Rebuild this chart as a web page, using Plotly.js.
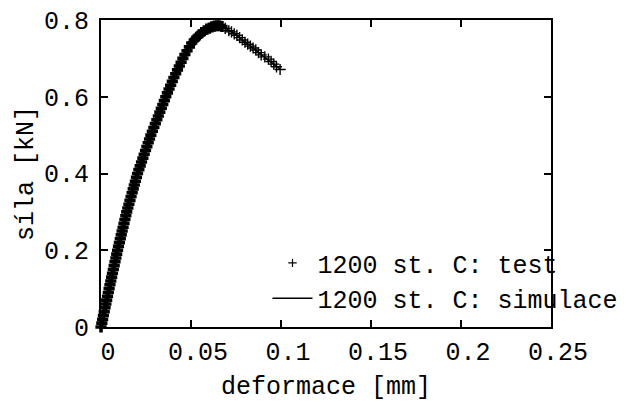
<!DOCTYPE html>
<html>
<head>
<meta charset="utf-8">
<script src="https://cdn.plot.ly/plotly-3.0.1.min.js"></script>
<style>html,body{margin:0;padding:0;background:#fff;}#chart{width:639px;height:402px;}</style>
</head>
<body>
<div id="chart"></div>
<script>
// Test data (crosses)
const testX = [0,0.00045,0.0009,0.00135,0.0018,0.00225,0.0027,0.00315,0.0036,0.00405,0.0045,
  0.00497,0.00544,0.00591,0.00638,0.00685,0.00732,0.00779,0.00826,0.00873,0.0092,
  0.00971,0.01022,0.01073,0.01124,0.01175,0.01226,0.01277,0.01328,0.01379,0.0143,
  0.0149,0.0155,0.0161,0.0167,0.0173,0.0179,0.0185,0.0191,0.0197,0.0203,
  0.02104,0.02178,0.02252,0.02326,0.024,0.02474,0.02548,0.02622,0.02696,0.0277,
  0.02853,0.02936,0.03019,0.03102,0.03185,0.03268,0.03351,0.03434,0.03517,0.036,
  0.0369,0.0378,0.0387,0.0396,0.0405,0.0415,0.0425,0.0435,0.0445,0.0455,
  0.0466,0.0478,0.0491,0.0504,0.0518,0.0532,0.0546,0.056,0.0574,0.0588,
  0.0602,0.0616,0.063,0.0644,0.0658,0.0672,
  0.069,0.071,0.0725,0.074,0.0755,0.077,0.0785,0.080,0.0815,0.083,0.0845,0.086,0.0875,0.089,0.091,0.093,0.0945,0.096,0.0975,0.0995];
const testY = [0,0.01,0.02,0.03,0.04,0.05,0.06,0.07,0.08,0.09,0.10,
  0.11,0.12,0.13,0.14,0.15,0.16,0.17,0.18,0.19,0.20,
  0.21,0.22,0.23,0.24,0.25,0.26,0.27,0.28,0.29,0.30,
  0.31,0.32,0.33,0.34,0.35,0.36,0.37,0.38,0.39,0.40,
  0.41,0.42,0.43,0.44,0.45,0.46,0.47,0.48,0.49,0.50,
  0.51,0.52,0.53,0.54,0.55,0.56,0.57,0.58,0.59,0.60,
  0.61,0.62,0.63,0.64,0.65,0.66,0.67,0.68,0.69,0.70,
  0.71,0.72,0.73,0.74,0.748,0.755,0.761,0.767,0.772,0.776,
  0.779,0.782,0.784,0.785,0.785,0.783,
  0.778,0.772,0.769,0.764,0.760,0.754,0.748,0.742,0.737,0.732,0.727,0.722,0.715,0.709,0.704,0.698,0.692,0.685,0.678,0.671];
// Simulation (line)
const simX = [0,0.0045,0.0092,0.0143,0.0203,0.0277,0.036,0.0405,0.0455,0.0504,0.0546,0.0588,0.063,0.066,0.069,0.073,0.078,0.083,0.088,0.093,0.0995];
const simY = [0,0.1,0.2,0.3,0.4,0.5,0.6,0.65,0.7,0.74,0.761,0.776,0.784,0.785,0.779,0.768,0.75,0.732,0.714,0.697,0.672];
const seriesNames = ["1200 st. C: test", "1200 st. C: simulace"];
const xTicks = [0,0.05,0.1,0.15,0.2,0.25];
const xTickText = ["0","0.05","0.1","0.15","0.2","0.25"];
const yTicks = [0,0.2,0.4,0.6,0.8];
const yTickText = ["0","0.2","0.4","0.6","0.8"];
const xTitle = "deformace [mm]";
const yTitle = "síla [kN]";

const FONT = {family: "Liberation Mono, Courier New, monospace", size: 25, color: "#000"};

// dense overlapping region drawn with heavier strokes so the crosses merge into a band
const crossWidths = testX.map(function (v) { return v < 0.068 ? 3.6 : 1.4; });

const traces = [
  {x: testX, y: testY, name: seriesNames[0], type: "scatter", mode: "markers", cliponaxis: false,
   showlegend: false,
   marker: {symbol: "cross-thin-open", size: 8, color: "#000", line: {color: "#000", width: crossWidths}}},
  {x: simX, y: simY, name: seriesNames[1], type: "scatter", mode: "lines", cliponaxis: false,
   showlegend: false,
   line: {color: "#000", width: 1.5}},
  // legend entries
  {x: [null], y: [null], name: seriesNames[0], type: "scatter", mode: "markers",
   marker: {symbol: "cross-thin-open", size: 6, color: "#000", line: {color: "#000", width: 1.2}}},
  {x: [null], y: [null], name: seriesNames[1], type: "scatter", mode: "lines",
   line: {color: "#000", width: 1.5}}
];

const axisCommon = {showgrid: false, zeroline: false, showline: true, linecolor: "#000", linewidth: 2,
  mirror: "allticks", ticks: "inside", ticklen: 7, tickwidth: 2, tickcolor: "#000",
  tickfont: FONT, tickmode: "array"};

const layout = {
  width: 639, height: 402,
  margin: {l: 101, r: 88, t: 20, b: 75},
  paper_bgcolor: "#fff", plot_bgcolor: "#fff",
  font: FONT,
  showlegend: true,
  legend: {x: 0.37, y: 0.283, xanchor: "left", yanchor: "top", bgcolor: "rgba(0,0,0,0)",
    font: FONT, itemwidth: 40, tracegroupgap: 0},
  xaxis: Object.assign({}, axisCommon, {range: [0, 0.25], tickvals: xTicks, ticktext: xTickText,
    ticklabelshift: 7, ticklabelstandoff: 1,
    title: {text: xTitle, font: FONT, standoff: 19}}),
  yaxis: Object.assign({}, axisCommon, {range: [0, 0.8], tickvals: yTicks, ticktext: yTickText,
    ticklabelstandoff: 5,
    title: {text: yTitle, font: FONT, standoff: 3}})
};

Plotly.newPlot("chart", traces, layout, {displayModeBar: false, staticPlot: true});
</script>
</body>
</html>
